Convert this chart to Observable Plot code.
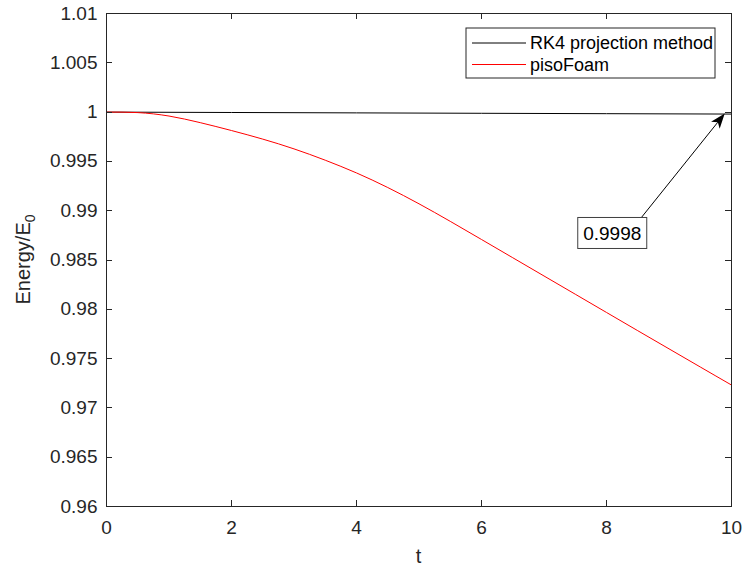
<!DOCTYPE html>
<html>
<head>
<meta charset="utf-8">
<script src="https://cdn.jsdelivr.net/npm/d3@7"></script>
<script src="https://cdn.jsdelivr.net/npm/@observablehq/plot@0.6"></script>
<style>
  html, body { margin: 0; padding: 0; background: #ffffff; }
  #chart svg { display: block; }
</style>
</head>
<body>
<div id="chart"></div>
<script>
// ---- data ----
const tValues = [0, 0.5, 1, 1.5, 2, 2.5, 3, 3.5, 4, 4.5, 5, 5.5, 6, 6.5, 7, 7.5, 8, 8.5, 9, 9.5, 10];
const pisoFoam = [1.00000, 0.99995, 0.99960, 0.99893, 0.99813, 0.99726, 0.99627, 0.99512, 0.99383, 0.99235,
                  0.99070, 0.98892, 0.98708, 0.98523, 0.98338, 0.98153, 0.97968, 0.97783, 0.97599, 0.97415, 0.97232];
const rk4T = [0, 2, 4, 6, 8, 10];
const rk4 = [1.00000, 0.99996, 0.99992, 0.99988, 0.99984, 0.99980];
const seriesNames = ["RK4 projection method", "pisoFoam"];
const seriesColors = ["#000000", "#ff0000"];
const xTicks = [0, 2, 4, 6, 8, 10];
const xTickLabels = ["0", "2", "4", "6", "8", "10"];
const yTicks = [0.96, 0.965, 0.97, 0.975, 0.98, 0.985, 0.99, 0.995, 1.0, 1.005, 1.01];
const yTickLabels = ["0.96", "0.965", "0.97", "0.975", "0.98", "0.985", "0.99", "0.995", "1", "1.005", "1.01"];
const xLabel = "t";
const yLabelMain = "Energy/E";
const yLabelSub = "0";
const annotationText = ["0.9998"];
const annotationAt = [8.1, 0.98769];   // [t, energy] of the text box centre
const arrowFrom = [8.56, 0.98921];     // tail of the arrow
const arrowTo = [9.9, 0.9998];         // tip of the arrow (the RK4 end value)

const rk4Data = rk4T.map((t, i) => ({t, e: rk4[i]}));
const pisoData = tValues.map((t, i) => ({t, e: pisoFoam[i]}));

const FONT = "'Liberation Sans', Arial, Helvetica, sans-serif";
const AXIS = "#262626";
const TICK = 6;
const lab = (ticks, labels) => d => labels[ticks.findIndex(v => Math.abs(v - d) < 1e-9)];

// inward tick marks on all four sides (MATLAB box style), placed with the scales
function innerTicks(index, scales, values, dims) {
  const g = d3.create("svg:g").attr("stroke", AXIS).attr("stroke-width", 1).attr("fill", "none");
  const L = dims.marginLeft, R = dims.width - dims.marginRight;
  const T = dims.marginTop, B = dims.height - dims.marginBottom;
  xTicks.forEach(v => {
    const x = Math.round(scales.x(v)) + 0.5;
    g.append("line").attr("x1", x).attr("x2", x).attr("y1", B).attr("y2", B - TICK);
    g.append("line").attr("x1", x).attr("x2", x).attr("y1", T).attr("y2", T + TICK);
  });
  yTicks.forEach(v => {
    const y = Math.round(scales.y(v)) + 0.5;
    g.append("line").attr("x1", L).attr("x2", L + TICK).attr("y1", y).attr("y2", y);
    g.append("line").attr("x1", R).attr("x2", R - TICK).attr("y1", y).attr("y2", y);
  });
  return g.node();
}

// y-axis title with a real subscript
function yTitle(index, scales, values, dims) {
  const cy = (dims.marginTop + dims.height - dims.marginBottom) / 2;
  const t = d3.create("svg:text")
    .attr("transform", `translate(${dims.marginLeft - 76},${cy}) rotate(-90)`)
    .attr("text-anchor", "middle")
    .attr("font-family", FONT)
    .attr("font-size", 20)
    .attr("fill", AXIS);
  t.append("tspan").text(yLabelMain);
  t.append("tspan").attr("font-size", 14).attr("dy", 5).text(yLabelSub);
  return t.node();
}

function xTitle(index, scales, values, dims) {
  const cx = (dims.marginLeft + dims.width - dims.marginRight) / 2;
  return d3.create("svg:text")
    .attr("x", cx)
    .attr("y", dims.height - dims.marginBottom + 57)
    .attr("text-anchor", "middle")
    .attr("font-family", FONT)
    .attr("font-size", 20)
    .attr("fill", AXIS)
    .text(xLabel).node();
}

function legend(index, scales, values, dims) {
  const g = d3.create("svg:g").attr("font-family", FONT);
  const w = 249, h = 50;
  const x0 = dims.width - dims.marginRight - 16 - w;
  const y0 = dims.marginTop + 15;
  g.append("rect").attr("x", x0).attr("y", y0).attr("width", w).attr("height", h)
    .attr("fill", "#ffffff").attr("stroke", AXIS).attr("stroke-width", 1);
  seriesNames.forEach((name, i) => {
    const yy = y0 + 15 + i * 21.5;
    g.append("line").attr("x1", x0 + 6).attr("x2", x0 + 60).attr("y1", yy).attr("y2", yy)
      .attr("stroke", seriesColors[i]).attr("stroke-width", 1);
    g.append("text").attr("x", x0 + 64).attr("y", yy + 6.3).attr("font-size", 18)
      .attr("text-anchor", "start")
      .attr("fill", "#000000").text(name);
  });
  return g.node();
}

function annotation(index, scales, values, dims) {
  const g = d3.create("svg:g").attr("font-family", FONT);
  const x1 = scales.x(arrowFrom[0]), y1 = scales.y(arrowFrom[1]);
  const x2 = scales.x(arrowTo[0]), y2 = scales.y(arrowTo[1]);
  const len = Math.hypot(x2 - x1, y2 - y1);
  const ux = (x2 - x1) / len, uy = (y2 - y1) / len;
  const nx = -uy, ny = ux;
  const L = 15, Wd = 11, notch = 4;
  const bx = x2 - (L - notch) * ux, by = y2 - (L - notch) * uy;
  g.append("line").attr("x1", x1).attr("y1", y1).attr("x2", bx).attr("y2", by)
    .attr("stroke", "#000000").attr("stroke-width", 1);
  const p = [
    [x2, y2],
    [x2 - L * ux + Wd / 2 * nx, y2 - L * uy + Wd / 2 * ny],
    [bx, by],
    [x2 - L * ux - Wd / 2 * nx, y2 - L * uy - Wd / 2 * ny]
  ];
  g.append("path").attr("d", "M" + p.map(q => q.join(",")).join("L") + "Z").attr("fill", "#000000");
  const cx = scales.x(annotationAt[0]), cy = scales.y(annotationAt[1]);
  g.append("rect").attr("x", cx - 34.5).attr("y", cy - 15.5).attr("width", 69).attr("height", 31)
    .attr("fill", "#ffffff").attr("stroke", "#404040").attr("stroke-width", 1);
  g.append("text").attr("x", cx).attr("y", cy + 7).attr("text-anchor", "middle")
    .attr("font-size", 19).attr("fill", "#000000").text(annotationText[0]);
  return g.node();
}

const chart = Plot.plot({
  width: 745,
  height: 571,
  marginLeft: 106,
  marginRight: 14,
  marginTop: 13,
  marginBottom: 65,
  style: {fontFamily: FONT, fontSize: "19px", color: AXIS, background: "#ffffff", overflow: "visible"},
  x: {domain: [0, 10], label: null},
  y: {domain: [0.96, 1.01], label: null},
  marks: [
    Plot.line(rk4Data, {x: "t", y: "e", stroke: seriesColors[0], strokeWidth: 1}),
    Plot.line(pisoData, {x: "t", y: "e", stroke: seriesColors[1], strokeWidth: 1, curve: "natural"}),
    innerTicks,
    Plot.frame({stroke: AXIS, strokeWidth: 1}),
    Plot.axisX({ticks: xTicks, tickSize: 0, tickPadding: 14, tickFormat: lab(xTicks, xTickLabels), label: null, fontSize: 19}),
    Plot.axisY({ticks: yTicks, tickSize: 0, tickPadding: 9, tickFormat: lab(yTicks, yTickLabels), label: null, fontSize: 19}),
    yTitle,
    xTitle,
    legend,
    annotation
  ]
});
document.getElementById("chart").appendChild(chart);
</script>
</body>
</html>
